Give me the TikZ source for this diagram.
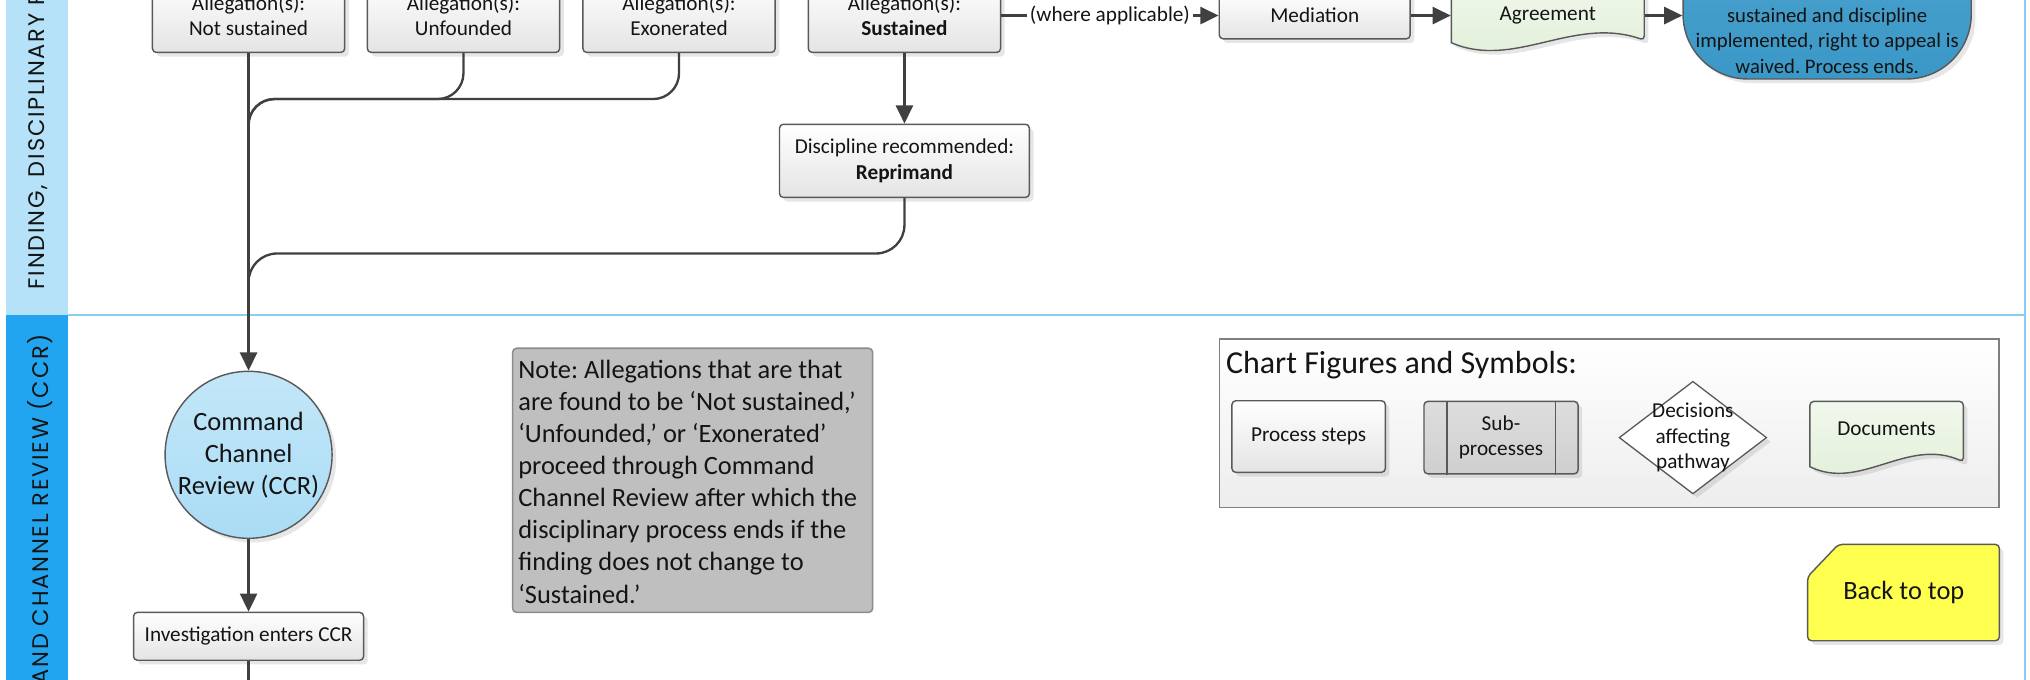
\documentclass[tikz,border=0pt]{standalone}
\usepackage{fontspec}
\setmainfont{Carlito}
\newfontfamily\lanefont{Poppins}[LetterSpace=8]
\usetikzlibrary{arrows.meta,shapes.geometric,shadows,calc}
\frenchspacing

\definecolor{linegray}{HTML}{404040}
\definecolor{bordergray}{HTML}{595959}
\definecolor{boxgray}{HTML}{E4E4E4}
\definecolor{lanetopblue}{HTML}{B5E2F8}
\definecolor{lanebotblue}{HTML}{22A5F0}
\definecolor{lanelineblue}{HTML}{8ACFF2}
\definecolor{ccrblue}{HTML}{A9DCF5}
\definecolor{endblue}{HTML}{3A98C7}
\definecolor{docgreen}{HTML}{E0EFD6}
\definecolor{notegray}{HTML}{BFBFBF}
\definecolor{noteborder}{HTML}{8C8C8C}
\definecolor{subgray}{HTML}{CFCFCF}
\definecolor{legendborder}{HTML}{7F7F7F}
\definecolor{backyellow}{HTML}{FFFF4F}
\definecolor{textblack}{HTML}{141414}

\def\RowY{12}
\def\MainX{192}
\def\LaneY{243}

\tikzset{
  boxfont/.style={font=\fontsize{8.2}{9.8}\selectfont},
  bigfont/.style={font=\fontsize{10.2}{12.4}\selectfont},
  softshadow/.style={drop shadow={shadow xshift=1.6pt,shadow yshift=-1.6pt,opacity=0.2}},
  flow/.style={draw=linegray,line width=0.9pt},
  arr/.style={flow,-{Triangle[length=7pt,width=6.6pt]}},
  procbox/.style={draw=bordergray,line width=0.55pt,rounded corners=1.5pt,top color=white,bottom color=boxgray,
    softshadow,align=center,boxfont,text=textblack,inner sep=2pt,minimum width=74.25pt,minimum height=28.5pt},
  plaintext/.style={align=center,boxfont,text=textblack,inner sep=0pt},
  docshape/.style={draw=bordergray,line width=0.55pt,top color=docgreen!45!white,bottom color=docgreen,softshadow},
  endbox/.style={draw=bordergray,line width=0.55pt,rounded corners=25pt,top color=endblue!90!white,bottom color=endblue,
    softshadow,minimum width=111.3pt,minimum height=60.5pt},
  endtext/.style={align=center,font=\fontsize{8}{10}\selectfont,text=textblack,inner sep=0pt},
  wherelabel/.style={fill=white,inner sep=1pt,boxfont,text=textblack},
  ccrnode/.style={circle,draw=bordergray,line width=0.55pt,top color=ccrblue!70!white,bottom color=ccrblue,softshadow,
    align=center,bigfont,text=textblack,inner sep=0pt,minimum size=64.5pt},
  notebox/.style={draw=noteborder,line width=0.6pt,fill=notegray,rounded corners=1.5pt,minimum width=139pt,minimum height=102pt},
  notetext/.style={align=left,bigfont,text=textblack,inner sep=0pt},
  legendbox/.style={draw=legendborder,line width=0.6pt,top color=white,bottom color=black!7,minimum width=301pt,minimum height=65pt},
  subbox/.style={draw=bordergray,line width=0.55pt,rounded corners=1.5pt,top color=subgray!70!white,bottom color=subgray,
    softshadow,align=center,boxfont,text=textblack,inner sep=0pt,minimum width=59.5pt,minimum height=28pt},
  legdiamond/.style={diamond,draw=bordergray,line width=0.5pt,fill=white,softshadow,inner sep=0pt,minimum width=57pt,minimum height=43.5pt},
  backbtn/.style={draw=bordergray,line width=0.55pt,fill=backyellow,rounded corners=1.5pt,softshadow},
  lanelabel/.style={rotate=90,inner sep=0pt,font=\lanefont\fontsize{8.7}{10.4}\selectfont,text=textblack}
}

\begin{document}
\begin{tikzpicture}[x=0.5pt,y=-0.5pt]
\useasboundingbox (0,0) rectangle (1568,525);
\clip (0,0) rectangle (1568,525);

% swimlanes
\fill[lanetopblue] (4.6,0) rectangle (52.8,\LaneY);
\fill[lanebotblue] (4.6,\LaneY) rectangle (52.8,525);
\draw[lanelineblue,line width=0.8pt] (52.8,\LaneY) -- (1564,\LaneY);
\draw[lanelineblue,line width=0.8pt] (1564,0) -- (1564,525);
\node[lanelabel,anchor=base west] (lanefind) at (34.5,224) {FINDING, DISCIPLINARY P};
\node[lanelabel,anchor=base east] (laneccr) at (37.8,257.5) {COMMAND CHANNEL REVIEW (CCR)};

% findings
\node[procbox] (ns) at (\MainX,\RowY) {Allegation(s):\\Not sustained};
\node[procbox] (uf) at (358,\RowY) {Allegation(s):\\Unfounded};
\node[procbox] (ex) at (524.5,\RowY) {Allegation(s):\\Exonerated};
\node[procbox] (su) at (698.6,\RowY) {Allegation(s):\\\textbf{Sustained}};
\node[procbox,minimum width=73.75pt,minimum height=18pt] (med) at (1015.5,\RowY) {Mediation};

\filldraw[docshape] (1121,33) [rounded corners=1.5pt] -- (1121,-20) -- (1270,-20) -- (1270,31) [sharp corners]
  .. controls (1215,12) and (1170,54) .. (1121,33) -- cycle;
\node[plaintext,minimum width=74.5pt] (agr) at (1195.5,\RowY) {Agreement};

\node[endbox] (done) at (1411.3,0.5) {};
\node[endtext] (donetxt) at (1411.3,31.5) {sustained and discipline\\implemented, right to appeal is\\waived. Process ends.};

\node[procbox,minimum width=96.5pt,minimum height=28.25pt] (disc) at (698.6,124.25) {Discipline recommended:\\\textbf{Reprimand}};

\draw[arr] (su) -- node[wherelabel] {(where applicable)} (med);
\draw[arr] (med) -- (agr);
\draw[arr] (agr) -- (agr.east -| done.west);
\draw[arr] (su) -- (disc);

\coordinate (j1) at (\MainX,76.5);
\coordinate (j1end) at (\MainX,130);
\coordinate (j2) at (\MainX,195.8);
\coordinate (j2end) at (\MainX,260);
\draw[flow,rounded corners=10pt] (uf.south) |- (j1) -- (j1end);
\draw[flow,rounded corners=10pt] (ex.south) |- (j1) -- (j1end);
\draw[flow,rounded corners=11pt] (disc.south) |- (j2) -- (j2end);

% command channel review
\node[ccrnode] (ccr) at (\MainX,351.3) {Command\\Channel\\Review (CCR)};
\node[procbox,minimum width=88.85pt,minimum height=18.5pt] (inv) at (\MainX,491.5) {Investigation enters CCR};
\coordinate (invout) at (\MainX,540);
\draw[arr] (ns) -- (ccr);
\draw[arr] (ccr) -- (inv);
\draw[flow] (inv) -- (invout);

\node[notebox] (note) at (535,371) {};
\node[notetext,anchor=west] (notetxt) at (400,372) {Note: Allegations that are that\\are found to be ‘Not sustained,’\\‘Unfounded,’ or ‘Exonerated’\\proceed through Command\\Channel Review after which the\\disciplinary process ends if the\\finding does not change to\\‘Sustained.’};

% legend
\node[legendbox] (legend) at (1243,327) {};
\node[anchor=west,inner sep=0pt,font=\fontsize{12.35}{14.8}\selectfont,text=textblack] (legtitle) at (946.6,282) {Chart Figures and Symbols:};
\node[procbox,minimum width=59.25pt,minimum height=27.65pt] (lproc) at (1010.8,337.2) {Process steps};
\node[subbox] (lsub) at (1159.4,338) {Sub-\\processes};
\draw[bordergray,line width=0.55pt] ([xshift=9.2pt]lsub.north west) -- ([xshift=9.2pt]lsub.south west);
\draw[bordergray,line width=0.55pt] ([xshift=-9pt]lsub.north east) -- ([xshift=-9pt]lsub.south east);
\node[legdiamond] (ldec) at (1307.6,338) {};
\node[plaintext] (ldectxt) at (ldec) {Decisions\\affecting\\pathway};
\filldraw[docshape] (1398,360.5) [rounded corners=1.5pt] -- (1398,310) -- (1516.5,310) -- (1516.5,356.6) [sharp corners]
  .. controls (1472.8,337.6) and (1437,379.6) .. (1398,360.5) -- cycle;
\node[plaintext] (ldoc) at (1457.2,331.4) {Documents};

\filldraw[backbtn] (1420,420.5) -- (1544.3,420.5) -- (1544.3,494.9) -- (1396.2,494.9) -- (1396.2,445.5) -- cycle;
\node[plaintext,bigfont] (backtop) at (1470.5,458) {Back to top};
\end{tikzpicture}
\end{document}
